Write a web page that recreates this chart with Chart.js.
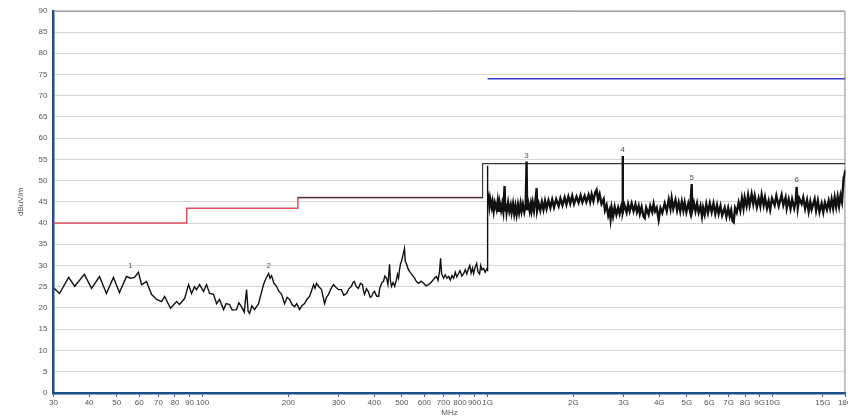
<!DOCTYPE html>
<html>
<head>
<meta charset="utf-8">
<script src="https://cdn.jsdelivr.net/npm/chart.js@4.4.1/dist/chart.umd.min.js"></script>
<style>
  html, body { margin: 0; padding: 0; background: #fff; overflow: hidden; }
  #wrap { width: 848px; height: 420px; overflow: hidden; }
</style>
</head>
<body>
<div id="wrap"><canvas id="emc" width="854" height="420"></canvas></div>
<script>
'use strict';

// x axis tick positions (MHz)
var xTicks = [30, 40, 50, 60, 70, 80, 90, 100, 200, 300, 400, 500, 600, 700, 800, 900,
  1000, 2000, 3000, 4000, 5000, 6000, 7000, 8000, 9000, 10000, 15000, 18000];

// limit lines
var redFreq = [30, 88, 88, 216, 216, 960];
var redLevel = [40, 40, 43.5, 43.5, 46, 46];
var blackFreq = [216, 960, 960, 18000];
var blackLevel = [46, 46, 54, 54];
var blueFreq = [1000, 18000];
var blueLevel = [74, 74];

// measured trace, 30 MHz - 1 GHz
var lowFreq = [30.2, 31.5, 33.9, 35.6, 38.5, 40.8, 43.5, 46, 48.7, 51.1, 54.1, 55.9, 57.7, 59.6, 61.1, 63.6,
  66.2, 69, 71.8, 73.6, 77.2, 81.1, 83, 86.5, 89.3, 91.5, 93.7, 95.2, 97.6, 100.8, 103.3, 105.8,
  109.3, 112, 114.7, 118.5, 121, 124.4, 127, 131.6, 134, 137, 140, 142.7, 144.5, 146.2, 149, 152.2,
  157.2, 160, 163.7, 167, 170.5, 172.5, 174.6, 178, 181.8, 185, 189.3, 194, 198, 202, 206, 210.3,
  214, 219, 223, 228, 232, 237.4, 241, 245.2, 248, 251, 256, 261.5, 265, 268, 272, 276.7,
  282, 288, 294, 300, 307, 313, 320, 326, 333, 337, 341, 346, 352, 358, 364, 367,
  370, 376, 382, 387, 392, 396, 401, 408, 415, 418, 421, 426, 431, 436, 442, 447,
  453, 456, 460, 466, 472, 478, 483, 487, 491, 495, 499, 505, 511, 514, 520, 526,
  532, 540, 554, 563, 573, 584, 596, 608, 621, 633, 646, 655, 662, 670, 678, 684,
  690, 701, 710, 720, 730, 740, 750, 760, 770, 780, 791, 800, 812, 823, 835, 845,
  857, 866, 875, 885, 893, 903, 915, 925, 937, 946, 955, 968, 980, 992, 998, 1000];
var lowLevel = [24.6, 23.4, 27.2, 25.1, 27.9, 24.6, 27.4, 23.4, 27.2, 23.6, 27.4, 27.0, 27.2, 28.4, 25.5, 26.2,
  23.2, 22.0, 21.5, 22.7, 19.9, 21.5, 20.8, 22.2, 25.5, 23.4, 25.0, 24.3, 25.5, 23.9, 25.5, 23.4,
  23.2, 21.0, 22.0, 19.6, 21.0, 20.8, 19.5, 19.6, 21.2, 20.3, 19.0, 24.3, 19.2, 18.7, 20.5, 19.6,
  21.0, 23.0, 25.5, 27.0, 28.1, 27.0, 27.6, 25.8, 25.1, 24.0, 23.2, 21.0, 22.5, 22.0, 20.8, 20.3,
  21.0, 19.6, 20.5, 21.0, 22.0, 22.7, 24.0, 25.5, 24.6, 25.8, 25.0, 24.3, 22.5, 21.0, 22.5, 23.2,
  24.5, 25.5, 24.8, 24.3, 24.3, 23.0, 23.4, 24.5, 25.1, 26.0, 26.2, 25.0, 24.6, 25.8, 25.5, 24.0,
  23.2, 24.5, 23.8, 22.5, 22.7, 23.5, 23.9, 22.8, 22.7, 24.5, 25.1, 26.0, 26.2, 27.5, 27.0, 25.5,
  30.3, 26.5, 25.1, 26.0, 25.1, 26.5, 27.9, 27.0, 29.0, 30.5, 31.0, 32.5, 34.0, 31.0, 30.3, 29.2,
  28.6, 28.0, 27.0, 26.2, 25.8, 26.3, 25.8, 25.2, 25.5, 26.0, 26.7, 27.2, 27.4, 26.5, 28.5, 31.7,
  28.0, 27.0, 27.8, 27.0, 27.4, 26.6, 27.6, 27.0, 28.4, 27.3, 28.1, 28.8, 27.5, 28.0, 29.0, 28.0,
  29.3, 30.0, 28.2, 29.4, 28.1, 29.5, 30.5, 28.5, 28.0, 30.0, 29.0, 29.3, 28.4, 29.1, 28.8, 53.5];

// measured trace, 1 GHz - 18 GHz
var highFreq = [1003, 1008, 1015, 1022, 1033, 1040, 1050, 1060, 1075, 1085, 1095, 1102, 1115, 1125, 1135, 1147,
  1152, 1160, 1166, 1180, 1192, 1205, 1214, 1228, 1240, 1252, 1264, 1278, 1290, 1305, 1316, 1330,
  1345, 1360, 1370, 1376, 1390, 1405, 1418, 1427, 1440, 1455, 1470, 1486, 1492, 1510, 1530, 1550,
  1570, 1590, 1610, 1635, 1660, 1685, 1710, 1740, 1775, 1800, 1830, 1863, 1890, 1920, 1950, 1980,
  2010, 2050, 2085, 2120, 2150, 2189, 2220, 2260, 2290, 2317, 2350, 2385, 2412, 2440, 2471, 2510,
  2553, 2580, 2615, 2650, 2680, 2700, 2724, 2755, 2791, 2830, 2870, 2904, 2940, 2970, 2976, 2985,
  3020, 3073, 3110, 3150, 3201, 3250, 3300, 3340, 3387, 3420, 3470, 3520, 3556, 3600, 3672, 3720,
  3780, 3823, 3870, 3920, 3982, 4040, 4100, 4180, 4250, 4320, 4380, 4423, 4480, 4560, 4620, 4681,
  4740, 4800, 4860, 4912, 4980, 5060, 5130, 5199, 5220, 5290, 5360, 5430, 5500, 5580, 5650, 5700,
  5773, 5850, 5930, 6020, 6109, 6200, 6290, 6380, 6463, 6560, 6650, 6786, 6880, 6980, 7066, 7150,
  7230, 7296, 7380, 7480, 7597, 7700, 7800, 7900, 7977, 8100, 8200, 8300, 8437, 8550, 8650, 8800,
  8928, 9050, 9150, 9298, 9400, 9550, 9682, 9800, 9950, 10161, 10300, 10500, 10752, 10900, 11100, 11200,
  11379, 11550, 11700, 11900, 12050, 12138, 12250, 12400, 12640, 12800, 13000, 13200, 13372, 13550, 13700, 14032,
  14200, 14400, 14600, 14853, 15050, 15250, 15500, 15719, 15900, 16100, 16300, 16500, 16700, 16900, 17100, 17300,
  17500, 17745, 17890, 18000];
var highLevel = [45.8, 46.3, 44.0, 45.5, 43.8, 45.0, 42.8, 44.8, 43.2, 45.2, 42.6, 44.8, 43.0, 44.5, 42.8, 48.7,
  43.0, 44.6, 42.5, 44.8, 42.8, 44.2, 42.5, 44.5, 42.2, 44.0, 42.0, 44.3, 42.5, 44.6, 42.8, 44.4,
  42.6, 44.2, 54.5, 43.0, 44.6, 42.8, 44.5, 43.0, 44.8, 42.9, 45.0, 48.2, 43.0, 44.6, 43.0, 45.0,
  43.2, 45.2, 43.4, 45.3, 43.6, 45.5, 43.7, 45.6, 44.0, 45.8, 44.2, 46.0, 44.4, 46.2, 44.6, 46.4,
  44.5, 46.2, 44.8, 46.5, 44.9, 46.4, 45.0, 46.6, 45.0, 46.8, 45.2, 47.2, 47.8, 45.5, 46.8, 44.5,
  45.6, 43.0, 44.2, 41.8, 43.0, 41.0, 43.5, 41.6, 43.8, 42.0, 43.6, 42.2, 43.8, 42.5, 55.8, 42.6,
  44.2, 42.5, 44.4, 42.8, 44.6, 42.8, 44.4, 42.6, 44.0, 42.2, 43.8, 41.6, 41.2, 43.6, 42.0, 44.0,
  42.6, 44.5, 42.8, 43.6, 40.8, 43.5, 42.4, 44.6, 42.8, 45.5, 43.4, 45.8, 43.4, 45.4, 43.0, 44.8,
  42.8, 45.0, 43.0, 44.8, 42.6, 44.6, 42.8, 49.2, 43.0, 44.8, 42.8, 44.6, 42.5, 44.0, 41.6, 43.6,
  42.0, 44.4, 42.4, 44.6, 42.6, 44.6, 42.2, 44.2, 42.2, 44.0, 41.8, 43.6, 41.5, 43.5, 41.6, 43.0,
  40.5, 40.2, 43.5, 42.5, 44.8, 43.0, 45.8, 43.5, 46.0, 44.0, 46.5, 44.2, 46.8, 44.5, 46.4, 43.8,
  45.8, 44.0, 46.6, 44.2, 46.0, 43.5, 45.2, 43.2, 45.8, 44.2, 46.4, 44.0, 46.6, 44.2, 46.0, 43.5,
  45.6, 43.4, 45.6, 43.5, 45.2, 48.5, 43.6, 45.8, 44.5, 46.0, 43.4, 45.4, 42.8, 45.0, 43.2, 45.6,
  43.0, 45.2, 42.6, 44.6, 42.6, 44.8, 43.2, 45.2, 43.5, 45.6, 43.5, 46.0, 43.8, 46.2, 44.0, 46.5,
  45.0, 50.6, 51.5, 52.5];

// peak markers
var markerNames = ['1', '2', '3', '4', '5', '6'];
var markerFreq = [55.9, 170.5, 1370, 2976, 5199, 12138];
var markerLevel = [28.4, 28.6, 54.5, 55.8, 49.2, 48.7];

function toPoints(xs, ys) {
  var out = [];
  for (var i = 0; i < xs.length; i++) {
    out.push({ x: xs[i], y: ys[i] });
  }
  return out;
}

function fmtFreq(v) {
  if (v >= 1000) return (v / 1000) + 'G';
  return String(v);
}

var axisBlue = '#1d4d8a';
var fontFam = '"Liberation Sans", Arial, sans-serif';

// thin gray frame round the plot (top and right edges)
var framePlugin = {
  id: 'frame',
  beforeDatasetsDraw: function (chart) {
    var a = chart.chartArea;
    var ctx = chart.ctx;
    ctx.save();
    ctx.strokeStyle = '#8a8a8a';
    ctx.lineWidth = 1;
    ctx.beginPath();
    ctx.moveTo(a.left, a.top + 0.5);
    ctx.lineTo(a.right - 0.5, a.top + 0.5);
    ctx.lineTo(a.right - 0.5, a.bottom);
    ctx.stroke();
    ctx.restore();
  }
};

// small numbers over the peaks
var markerPlugin = {
  id: 'markers',
  afterDatasetsDraw: function (chart) {
    var ctx = chart.ctx;
    var xs = chart.scales.x;
    var ys = chart.scales.y;
    ctx.save();
    ctx.fillStyle = '#555';
    ctx.font = '8px ' + fontFam;
    ctx.textAlign = 'center';
    ctx.textBaseline = 'bottom';
    for (var i = 0; i < markerNames.length; i++) {
      var px = xs.getPixelForValue(markerFreq[i]);
      var py = ys.getPixelForValue(markerLevel[i]);
      ctx.fillText(markerNames[i], px, py - 2);
    }
    ctx.restore();
  }
};

// first dataset is painted on top
var ctx = document.getElementById('emc').getContext('2d');
var chart = new Chart(ctx, {
  type: 'line',
  data: {
    datasets: [
      {
        label: 'Trace high',
        data: toPoints(highFreq, highLevel),
        borderColor: '#111',
        borderWidth: 2.4
      },
      {
        label: 'Trace low',
        data: toPoints(lowFreq, lowLevel),
        borderColor: '#111',
        borderWidth: 1.4
      },
      {
        label: 'Limit AV',
        data: toPoints(blackFreq, blackLevel),
        borderColor: '#3a3a3a',
        borderWidth: 1.2
      },
      {
        label: 'Limit PK',
        data: toPoints(blueFreq, blueLevel),
        borderColor: '#3b3fd6',
        borderWidth: 1.5
      },
      {
        label: 'Limit QP',
        data: toPoints(redFreq, redLevel),
        borderColor: '#d9505e',
        borderWidth: 1.5
      }
    ]
  },
  options: {
    responsive: false,
    animation: false,
    devicePixelRatio: 1,
    layout: { padding: { left: 16, right: 0, top: 9, bottom: 2 } },
    elements: {
      point: { radius: 0 },
      line: { tension: 0, fill: false }
    },
    plugins: {
      legend: { display: false },
      tooltip: { enabled: false }
    },
    scales: {
      x: {
        type: 'logarithmic',
        min: 30,
        max: 18000,
        afterBuildTicks: function (axis) {
          axis.ticks = xTicks.map(function (v) { return { value: v }; });
        },
        ticks: {
          autoSkip: false,
          maxRotation: 0,
          padding: 1,
          color: '#555',
          font: { size: 8, family: fontFam },
          callback: function (v) { return fmtFreq(v); }
        },
        grid: {
          drawOnChartArea: false,
          drawTicks: true,
          tickLength: 4,
          color: axisBlue
        },
        border: { color: axisBlue, width: 2.5 },
        title: {
          display: true,
          text: 'MHz',
          color: '#555',
          font: { size: 8, family: fontFam },
          padding: { top: 0, bottom: 0 }
        }
      },
      y: {
        min: 0,
        max: 90,
        ticks: {
          stepSize: 5,
          padding: 6,
          color: '#555',
          font: { size: 8, family: fontFam }
        },
        grid: {
          color: '#d6d6d6',
          drawTicks: false
        },
        border: { color: axisBlue, width: 2.5 },
        title: {
          display: true,
          text: 'dBuV/m',
          color: '#555',
          font: { size: 8, family: fontFam },
          padding: { top: 0, bottom: 7 }
        }
      }
    }
  },
  plugins: [framePlugin, markerPlugin]
});
</script>
</body>
</html>
